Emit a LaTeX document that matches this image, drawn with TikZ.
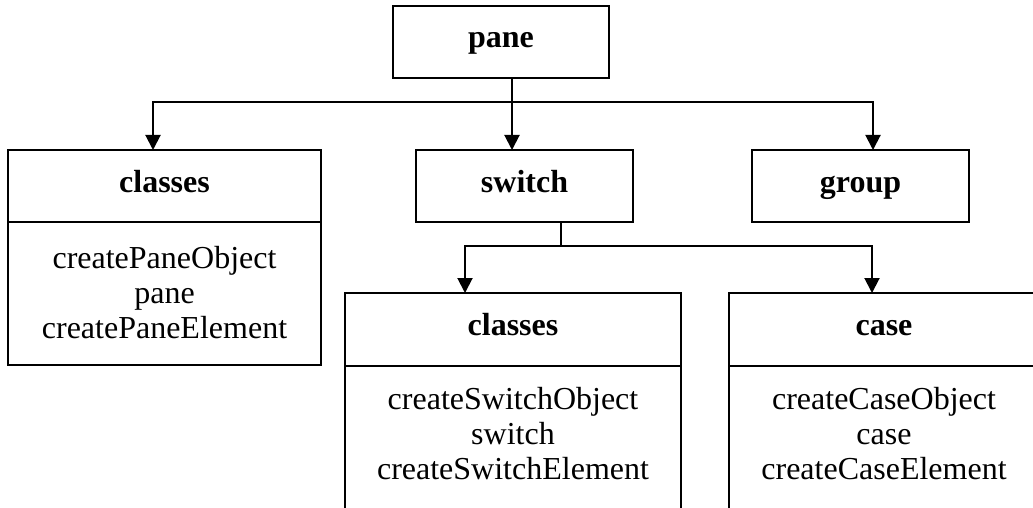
\documentclass[tikz,border=0pt]{standalone}
\usepackage{fontspec}
\setmainfont{Liberation Serif}
\usetikzlibrary{arrows.meta}
\tikzset{
  box/.style={draw, line width=2pt, rectangle, inner sep=0pt, outer sep=0pt},
  headbox/.style={box, text height=19pt, text depth=7pt, font=\fontsize{32}{36}\selectfont\bfseries},
  bodytext/.style={align=center, inner sep=0pt, font=\fontsize{32}{35}\selectfont},
  wire/.style={line width=2pt},
  arr/.style={wire, -{Triangle[length=15pt,width=15pt]}}
}
\begin{document}
\begin{tikzpicture}[x=1pt,y=-1pt]
\useasboundingbox (0,0) rectangle (1033,508);
\clip (0,0) rectangle (1033,508);
% top
\node[headbox, minimum width=216pt, minimum height=72pt] (pane) at (501,42) {pane};
% level 2
\node[headbox, minimum width=313pt, minimum height=72pt] (cAhead) at (164.5,186) {classes};
\node[box, minimum width=313pt, minimum height=143pt] (cAbody) at (164.5,293.5) {};
\node[bodytext] (cAtext) at (164.5,293) {createPaneObject\\pane\\createPaneElement};
\node[headbox, minimum width=217pt, minimum height=72pt] (switch) at (524.5,186) {switch};
\node[headbox, minimum width=217pt, minimum height=72pt] (group) at (860.5,186) {group};
% level 3
\node[headbox, minimum width=336pt, minimum height=73pt] (cBhead) at (513,329.5) {classes};
\node[box, minimum width=336pt, minimum height=174pt] (cBbody) at (513,453) {};
\node[bodytext] (cBtext) at (513,434) {createSwitchObject\\switch\\createSwitchElement};
\node[headbox, minimum width=310pt, minimum height=73pt] (casehead) at (884,329.5) {case};
\node[box, minimum width=310pt, minimum height=174pt] (casebody) at (884,453) {};
\node[bodytext] (casetext) at (884,434) {createCaseObject\\case\\createCaseElement};
% connectors level 1
\coordinate (tA) at (512,102);
\coordinate (lA) at (153,102);
\coordinate (rA) at (873,102);
\draw[wire] (pane.south -| tA) -- (tA);
\draw[arr] (tA) -- (switch.north -| tA);
\draw[arr] (tA) -- (lA) -- (cAhead.north -| lA);
\draw[arr] (tA) -- (rA) -- (group.north -| rA);
% connectors level 2
\coordinate (tB) at (561,246);
\coordinate (lB) at (465,246);
\coordinate (rB) at (872,246);
\draw[wire] (switch.south -| tB) -- (tB);
\draw[arr] (tB) -- (lB) -- (cBhead.north -| lB);
\draw[arr] (tB) -- (rB) -- (casehead.north -| rB);
\end{tikzpicture}
\end{document}
